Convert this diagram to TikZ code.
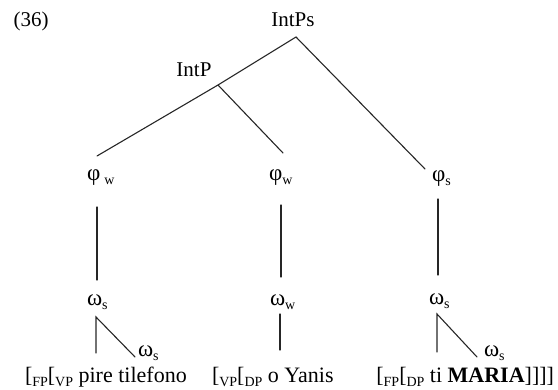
\documentclass[tikz,border=0pt]{standalone}
\usepackage{fontspec}
\setmainfont{Liberation Serif}
\newcommand{\mysub}[1]{\raisebox{-3.5pt}{\fontsize{14}{14}\selectfont #1}}
\newcommand{\mybsub}[1]{\raisebox{-4pt}{\fontsize{14}{14}\selectfont #1}}
\begin{document}
\begin{tikzpicture}[x=1pt,y=1pt,
  every node/.style={inner sep=0pt,outer sep=0pt},
  lbl/.style={font=\fontsize{21}{24}\selectfont},
  gr/.style={font=\fontsize{23}{26}\selectfont,anchor=west},
  txt/.style={font=\fontsize{22}{25}\selectfont},
  br/.style={line width=1.1pt,line cap=round,draw=black!85}]
\useasboundingbox (0,0) rectangle (558,-390);
% labels
\node[lbl] (num) at (31,-21) {(36)};
\node[lbl] (intps) at (293,-20) {IntPs};
\node[lbl] (intp) at (194,-70) {IntP};
\node[gr] (phiL) at (87,-178) {φ\hspace{4pt}\mysub{w}};
\node[gr] (phiM) at (269,-178) {φ\mysub{w}};
\node[gr] (phiR) at (432,-179) {φ\mysub{s}};
\node[gr] (omL) at (87,-302) {ω\mysub{s}};
\node[gr] (omM) at (270,-302) {ω\mysub{w}};
\node[gr] (omR) at (429,-301) {ω\mysub{s}};
\node[gr] (omLs) at (138,-353) {ω\mysub{s}};
\node[gr] (omRs) at (484,-353) {ω\mysub{s}};
\node[txt,anchor=base west] (tL) at (25,-383) {[\mybsub{FP}[\mybsub{VP} pire tilefono};
\node[txt,anchor=base west] (tM) at (212,-383) {[\mybsub{VP}[\mybsub{DP} o Yanis};
\node[txt,anchor=base east] (tR) at (554,-383) {[\mybsub{FP}[\mybsub{DP} ti \textbf{MARIA}]]]]};
% branch points
\coordinate (ipsTop) at (296,-37);
\coordinate (intpTop) at (218,-85);
\coordinate (phiLtop) at (97,-156);
\coordinate (phiMtop) at (283,-153);
\coordinate (phiRtop) at (425,-169);
\coordinate (vLa) at (97,-207);  \coordinate (vLb) at (97,-280);
\coordinate (vMa) at (281,-205); \coordinate (vMb) at (281,-277);
\coordinate (vRa) at (438,-199); \coordinate (vRb) at (438,-275);
\coordinate (omLtop) at (96,-317); \coordinate (omLbot) at (96,-353); \coordinate (omLdi) at (135,-357);
\coordinate (omMtop) at (280,-314); \coordinate (omMbot) at (280,-350);
\coordinate (omRtop) at (437,-314); \coordinate (omRbot) at (437,-352); \coordinate (omRdi) at (477,-357);
% connectors
\draw[br] (phiLtop) -- (intpTop) -- (ipsTop) -- (phiRtop);
\draw[br] (intpTop) -- (phiMtop);
\draw[br] (vLa) -- (vLb);
\draw[br] (vMa) -- (vMb);
\draw[br] (vRa) -- (vRb);
\draw[br] (omLbot) -- (omLtop) -- (omLdi);
\draw[br] (omMtop) -- (omMbot);
\draw[br] (omRbot) -- (omRtop) -- (omRdi);
\end{tikzpicture}
\end{document}
